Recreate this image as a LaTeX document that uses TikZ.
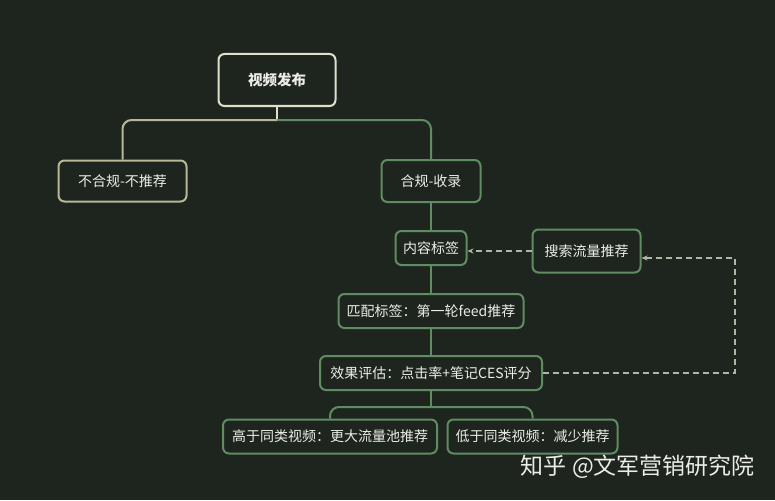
\documentclass[tikz,border=0pt]{standalone}
\usepackage{fontspec}
\setmainfont{Noto Sans CJK SC}
\usetikzlibrary{arrows.meta}

\definecolor{bgdark}{RGB}{30,37,31}
\definecolor{leafgreen}{RGB}{96,140,98}
\definecolor{cream}{RGB}{222,224,200}
\definecolor{sand}{RGB}{184,184,150}
\definecolor{dashgrey}{RGB}{170,184,164}
\definecolor{inkwhite}{RGB}{236,238,230}

\begin{document}
\begin{tikzpicture}[x=1pt,y=-1pt,
    box/.style={draw=leafgreen,line width=2pt,rounded corners=6pt,
      text=inkwhite,font=\fontsize{14}{16}\selectfont,inner sep=0pt},
    link/.style={leafgreen,line width=2pt},
    dashlink/.style={dashgrey,line width=1.3pt,dash pattern=on 6pt off 4pt,
      -{Stealth[length=6pt,width=5pt]}}]

% Background and frame
\fill[bgdark] (0,0) rectangle (775,500);
\useasboundingbox (0,0) rectangle (775,500);

% Root and first split
\node[box,draw=cream,minimum width=117pt,minimum height=52pt,
  font=\fontsize{14.5}{16}\selectfont\bfseries] (publish) at (277,80) {视频发布};
\node[box,draw=sand,minimum width=128pt,minimum height=41pt] (reject) at (122.5,181) {不合规-不推荐};
\node[box,minimum width=99pt,minimum height=42pt] (accept) at (431,181) {合规-收录};

% Main chain
\node[box,minimum width=71pt,minimum height=34pt] (tags) at (431,248) {内容标签};
\node[box,minimum width=108pt,minimum height=43pt] (search) at (586.5,251) {搜索流量推荐};
\node[box,minimum width=185pt,minimum height=34pt] (match) at (431,311) {匹配标签：第一轮feed推荐};
\node[box,minimum width=222pt,minimum height=34pt] (judge) at (431,373) {效果评估：点击率+笔记CES评分};

% Outcomes
\node[box,minimum width=214pt,minimum height=34pt] (high) at (330,436.5) {高于同类视频：更大流量池推荐};
\node[box,minimum width=170pt,minimum height=34pt] (low) at (532.5,436.5) {低于同类视频：减少推荐};

% Tree connectors
\coordinate (fork) at (277,120);
\draw[link,draw=cream] (publish.south) -- (fork);
\draw[link,draw=sand,rounded corners=9pt] (fork) -| (reject.north);
\draw[link,rounded corners=9pt] (fork) -| (accept.north);
\draw[link] (accept) -- (tags);
\draw[link] (tags) -- (match);
\draw[link] (match) -- (judge);
\coordinate (fork2) at (431,407);
\draw[link] (judge.south) -- (fork2);
\draw[link,rounded corners=9pt] (high.north) |- (fork2) -| (low.north);

% Feedback loops
\coordinate (loop) at (735,373);
\draw[dashlink] (search.west) -- (search.west -| tags.east);
\draw[dashlink] (judge.east) -- (loop) |- ([yshift=-7pt]search.east);

% Watermark
\node[text=inkwhite,font=\fontsize{23}{25}\selectfont,anchor=east,inner sep=0pt] (mark) at (755,467)
  {知乎 @文军营销研究院};

\end{tikzpicture}
\end{document}
